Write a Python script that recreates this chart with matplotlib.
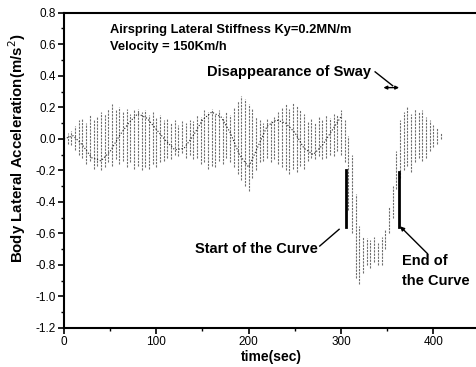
import matplotlib.pyplot as plt
from matplotlib.ticker import MultipleLocator, FormatStrFormatter

plt.rcParams['font.family'] = ['Liberation Sans', 'DejaVu Sans']

# --- Data: envelope of the acceleration trace (every 4 s) ---
time = list(range(0, 412, 4))
upper = [0.02, 0.04, 0.05, 0.08, 0.12, 0.13, 0.10, 0.15, 0.12, 0.14, 0.17,
         0.16, 0.19, 0.22, 0.18, 0.20, 0.17, 0.19, 0.16, 0.18, 0.19,
         0.17, 0.18, 0.15, 0.17, 0.14, 0.15, 0.12, 0.13, 0.10, 0.12,
         0.09, 0.11, 0.10, 0.12, 0.11, 0.15, 0.14, 0.18, 0.17, 0.19,
         0.16, 0.18, 0.14, 0.17, 0.15, 0.20, 0.24, 0.27, 0.25, 0.22,
         0.19, 0.14, 0.12, 0.10, 0.13, 0.11, 0.14, 0.17, 0.20, 0.22,
         0.19, 0.23, 0.21, 0.18, 0.16, 0.11, 0.13, 0.10, 0.14, 0.12,
         0.15, 0.13, 0.16, 0.15, 0.18, 0.12, 0.02, -0.10, -0.35, -0.55,
         -0.62, -0.63, -0.64, -0.62, -0.66, -0.62, -0.58, -0.43, -0.30, -0.08,
         0.12, 0.17, 0.20, 0.16, 0.19, 0.17, 0.18, 0.14, 0.12, 0.09,
         0.07, 0.04]
lower = [-0.01, -0.03, -0.04, -0.07, -0.10, -0.12, -0.16, -0.14, -0.19, -0.17, -0.20,
         -0.18, -0.15, -0.17, -0.13, -0.16, -0.14, -0.18, -0.15, -0.19, -0.17,
         -0.20, -0.18, -0.19, -0.16, -0.18, -0.15, -0.14, -0.12, -0.13, -0.10,
         -0.11, -0.09, -0.12, -0.10, -0.13, -0.12, -0.16, -0.15, -0.19, -0.17,
         -0.18, -0.14, -0.16, -0.12, -0.15, -0.18, -0.22, -0.26, -0.30, -0.33,
         -0.25, -0.20, -0.15, -0.14, -0.12, -0.15, -0.13, -0.16, -0.18, -0.20,
         -0.22, -0.19, -0.21, -0.17, -0.19, -0.14, -0.12, -0.13, -0.11, -0.13,
         -0.12, -0.10, -0.11, -0.08, -0.10, -0.15, -0.45, -0.60, -0.88, -0.92,
         -0.85, -0.80, -0.82, -0.78, -0.80, -0.80, -0.70, -0.60, -0.50, -0.32,
         -0.25, -0.20, -0.17, -0.21, -0.15, -0.12, -0.14, -0.12, -0.08, -0.05,
         -0.03, 0.00]

# dark slowly varying trace through the hatching
mid_time = list(range(0, 310, 10))
mid_value = [0.0, 0.02, -0.04, -0.12, -0.14, -0.08, 0.02, 0.10, 0.16, 0.13, 0.06,
             -0.01, -0.07, -0.06, 0.02, 0.12, 0.17, 0.14, 0.04, -0.10, -0.18,
             -0.05, 0.08, 0.12, 0.10, 0.04, -0.06, -0.10, -0.04, 0.05, 0.14]

# curve entry / exit markers and the "no sway" span
curve_start, curve_end = 306, 363
marker_low, marker_high = -0.56, -0.20
sway_span = (346, 363)
sway_level = 0.325

fig = plt.figure(figsize=(4.76, 3.67), dpi=100)
ax = fig.add_axes([0.1345, 0.1063, 0.8727, 0.859])

# --- hatched trace ---
ax.vlines(time, lower, upper, colors='#6e6e6e', linewidth=0.8,
          linestyles=(0, (2, 1)))
ax.plot(mid_time, mid_value, color='#222222', lw=0.8, ls=':')

# --- curve markers ---
ax.plot([curve_start, curve_start], [marker_low, marker_high], color='black', lw=2)
ax.plot([curve_end, curve_end], [marker_low, marker_high - 0.01], color='black', lw=2)

# --- annotations ---
bold = dict(fontweight='bold', color='black')
ax.text(50, 0.69, 'Airspring Lateral Stiffness Ky=0.2MN/m', fontsize=9.3,
        va='center', **bold)
ax.text(50, 0.584, 'Velocity = 150Km/h', fontsize=9.3, va='center', **bold)
ax.text(155, 0.426, 'Disappearance of Sway', fontsize=10.5, va='center', **bold)
ax.plot([337, 356], [0.425, 0.337], color='black', lw=1)
ax.annotate('', xy=(sway_span[1], sway_level), xytext=(sway_span[0], sway_level),
            arrowprops=dict(arrowstyle='<|-|>', color='black', lw=1,
                            mutation_scale=5, shrinkA=0, shrinkB=0))

ax.text(142, -0.70, 'Start of the Curve', fontsize=10.5, va='center', **bold)
ax.plot([277, 298], [-0.68, -0.574], color='black', lw=1)

ax.text(366, -0.777, 'End of', fontsize=10.5, va='center', **bold)
ax.text(366, -0.903, 'the Curve', fontsize=10.5, va='center', **bold)
ax.annotate('', xy=(364, -0.555), xytext=(394, -0.73),
            arrowprops=dict(arrowstyle='-|>', color='black', lw=1,
                            mutation_scale=6, shrinkA=0, shrinkB=0))

# --- axes ---
ax.set_xlim(0, 450)
ax.set_ylim(-1.2, 0.8)
ax.xaxis.set_major_locator(MultipleLocator(100))
ax.xaxis.set_minor_locator(MultipleLocator(50))
ax.yaxis.set_major_locator(MultipleLocator(0.2))
ax.yaxis.set_minor_locator(MultipleLocator(0.1))
ax.yaxis.set_major_formatter(FormatStrFormatter('%.1f'))
ax.tick_params(which='major', direction='out', length=4, width=1.2, labelsize=8.5, pad=2)
ax.tick_params(which='minor', direction='out', length=2.5, width=1)
for side in ['left', 'bottom', 'top', 'right']:
    ax.spines[side].set_linewidth(1.5)

ax.set_xlabel('time(sec)', fontsize=10, fontweight='bold', labelpad=1)
ax.set_ylabel('Body Lateral Acceleration(m/s$^2$)', fontsize=10.8, fontweight='bold')
ax.yaxis.set_label_coords(-0.087, 0.57)

fig.savefig('out.png', dpi=100)
